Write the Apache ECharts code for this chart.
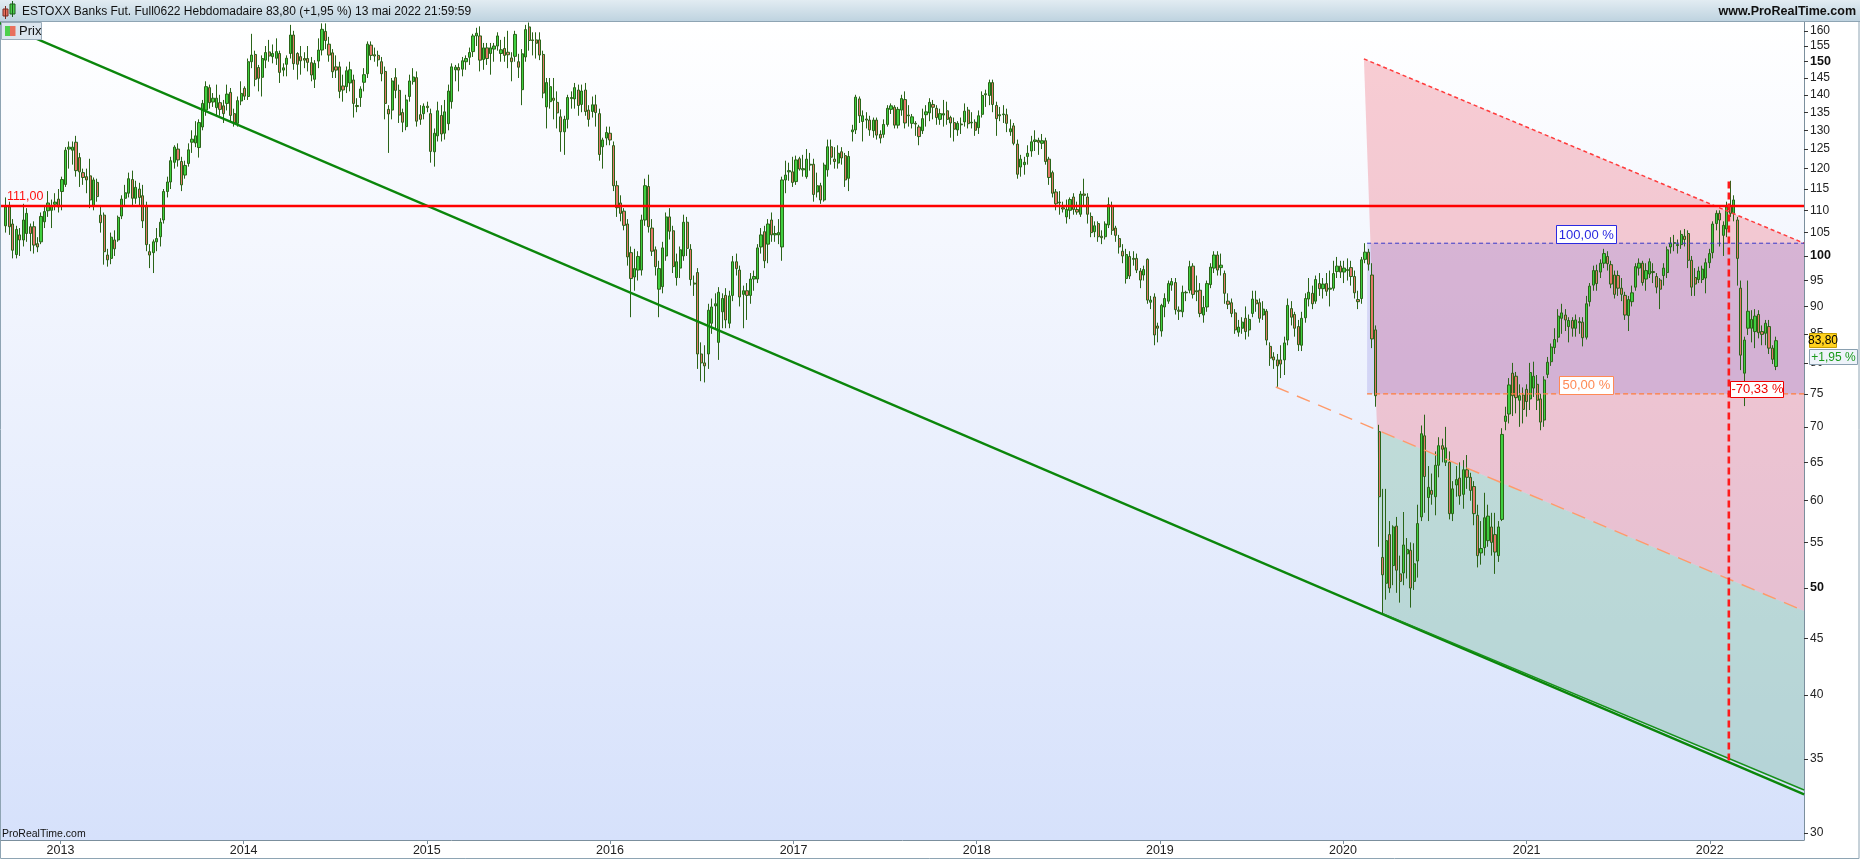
<!DOCTYPE html>
<html>
<head>
<meta charset="utf-8">
<title>ESTOXX Banks Fut. Full0622 Hebdomadaire</title>
<script src="https://cdn.jsdelivr.net/npm/echarts@6.0.0/dist/echarts.min.js"></script>
<style>
html,body{margin:0;padding:0;background:#fff;overflow:hidden}
#chart{width:1860px;height:860px}
</style>
</head>
<body>
<div id="chart"></div>
<script>
// Weekly candles, one row per week starting at firstWeek: [open, close, low, high]
const firstWeek = '2012-09-14';
const candles2012 = [
[106.5,110.8,105,113],[110.8,106.3,104.5,112],[106.9,101.2,99.5,108],[100.3,105.7,99.5,106.5],
[104.5,103.4,100,106],[103.4,107.8,102,111.5],[104.8,109.3,103,110.5],[106.3,104.8,101,107],
[106.3,102.3,100.5,107.5],[102.6,101.9,100.8,104],[103,108.6,102.5,109.5],[107.4,109.7,106,111],
[109.9,111.7,108.5,114.5],[110,111.1,106,112.5],[111.4,111.9,110,114],[112.6,110.8,109.5,115]];
const candles2013 = [
[114.4,117.3,110,118],[116.1,124.7,115.5,125.5],[125,125.5,120,127],[124.7,125.5,121,127],
[126.8,119.5,118,128.5],[122.8,119.2,115.5,124],[119,117.8,116,120],[118,117.2,114,120],
[118.2,112.4,110.5,122.5],[111.1,117.2,110,117.8],[116.6,113.2,112,117.5],[108.9,107.2,105,111],
[108.9,100.9,98.2,109.5],[100.2,99.2,97.8,101.5],[99.5,104,98.3,105],[103.4,101.5,100,105.5],
[103.4,108.4,103,108.8],[108.7,112.6,108,113.5],[112.8,114.1,111,116],[114,117.5,113,119],
[117.3,112.8,111,119.5],[112.8,115.4,111.5,117],[115,113,111,116.5],[113.4,107.6,106,116],
[111,102.4,101,112],[100.9,100.2,97.5,102.5],[100.7,103,96.5,103.5],[103,103.7,101,106],
[104.1,107.3,102,108.2],[107.8,114.4,107,115],[114.4,116.7,113,118],[116.7,122,115,123],
[121.6,125.5,120,126],[125,122.2,120.5,126.5],[121.8,116,114.5,123],[118.4,120.8,117.5,122],
[121.3,124.8,120.5,126.5],[126.8,127.6,124,130],[126.6,128.5,125.5,132.5],[125.4,132.1,122.8,133],
[130.9,137.5,130,138.5],[135.6,142.4,134,144],[142.1,137.7,136,143],[137.9,139,136.5,140.5],
[136.3,139,134,143],[137.7,135.8,134,140],[136.8,134.6,132,138.5],[137.5,140.2,135.5,143],
[140.7,134.1,132.5,142],[134.6,132,131,136],[131.9,138.3,131,139.5],[138.2,140.4,137,144]];
const candles2014 = [
[141.9,139.6,138.5,142.5],[139.5,150,138.5,151],[150,152.1,148,159],[152.3,144.6,142.5,153.5],
[148.2,144.9,141,149],[145.2,151,139.5,152],[150.5,152.9,148,155],[153.1,151.8,150,157],
[151.6,152.6,149.5,155.5],[151.1,153.2,149,157.5],[152.6,146.7,143.5,153.5],[147.4,148.1,145.5,149.5],
[149.2,151.1,145.5,152],[152.6,158.6,151,162],[158.6,149.4,147.5,160],[152.6,149.2,144.5,153],
[151.6,150.3,146,155],[151,150.5,148,153],[151,149.8,147,155],[149.7,145.9,144,151.5],
[144.6,149.5,142,150.5],[150.2,153.7,148,157.5],[153.7,160.5,152,162.5],[159.8,156.8,154,162.5],
[155.6,152.1,150,158],[152.8,146.9,145,154],[148.4,147.4,145,152],[148.4,141,139,150],
[142.6,141.4,138,146],[142.4,147.2,140.5,148.5],[143.5,147.5,141,150],[144.4,137.5,133.5,146],
[136.9,136.6,135,139],[139.2,141.7,136.5,142.5],[143.7,146,141,148],[146.3,155.6,145,156.5],
[155.3,152,150.5,156.5],[152.2,151.8,150,154.5],[152,150.6,148.5,153.5],[150,146.3,144,151.5],
[147,137.5,133,148.5],[135.8,134.5,124,137],[135.6,144.1,133,145],[145.1,141.3,139,148],
[141.3,134.2,132,143],[134.9,132.2,129.5,136],[131,138.5,130,140],[139.5,144.1,138,146],
[143.9,145.3,143,148],[145.1,132.5,131,147],[134.3,133,131.5,137],[134.6,136.7,133,137.5]];
const candles2015 = [
[136.7,136.3,135,138],[134.6,124.4,121.5,136],[124.3,129.2,120.5,130.5],[128.5,135.4,127,138],
[134.1,129,127,137],[129.2,135.1,127.5,138.5],[131.8,141.1,130,143],[138,148.4,136,149.5],
[147.5,148.3,144,149],[148.2,147.4,141,149.5],[147.7,150.3,145.5,151.5],[150,151,147.5,152],
[151.4,152.9,149,154.5],[153.2,158.3,151.5,159],[158.3,159.2,155,161],[158.3,150.5,147,161.5],
[150.7,154.4,147.5,156],[154.4,151,149,156],[152.6,154.4,146,156],[154,155,150,156],
[155,158.3,153.5,159.5],[152.6,153.8,150,157],[154.2,152,150,158],[153,152.2,148,160],
[151.2,150,144,153],[151.7,158.8,150,160],[150,148.3,145,152.5],[141.5,152.5,137,154],
[151.5,160.4,150,162],[161.3,156.8,153.5,162.8],[157,156.8,152,159.5],[157,155.9,151,159.5],
[157,152.1,150.5,159.5],[152.3,140.5,139,153.5],[136.5,143.6,130.5,145],[138,142.4,136,145],
[139,138.4,133,145],[137.8,134.8,130.5,141],[133.7,129.6,124.3,135.8],[129.6,133,123.5,134],
[133,139.2,130.5,140],[138.9,139.2,136,141],[138.8,142.1,136,143.5],[141.4,136.9,134,143],
[137.2,141.1,135,143],[141.4,135.2,134,143.5],[135.6,133,131,137],[135.2,137.1,133.5,139.5],
[137.1,134.9,131,140],[134.6,123.6,122,136],[125.6,127.4,120,128],[127.9,129.4,126,131]];
const candles2016 = [
[129.2,127.4,126,131],[125.9,115.8,114.5,127],[115.8,110.6,108.5,117],[111.7,109.3,107.5,113.5],
[109.8,106.6,105.5,110.5],[106.9,99.8,98,108],[100.7,95.4,88,102],[95.7,97.4,93,101.5],
[97.1,99.9,95,101],[97.1,107.8,96,109],[107.8,115.8,106.5,117.5],[115.6,106.3,105,118.5],
[106,101,100,108],[101.3,97.8,96,102],[93.3,97.4,88,99],[93.8,101.7,92.5,103],
[100,108.5,99,109.5],[108.5,105.3,103.5,110.5],[105.4,97.8,96.5,106.5],[95.6,98.8,94,100.5],
[97.5,101.3,95.5,102],[100,107.3,99,109],[107.3,101.6,100,108.5],[101.4,95.2,94,102.5],
[94.5,94.3,92,96],[96.6,81.5,79,97.5],[81.5,80,77,83.5],[80,79.5,76.8,83],
[81.5,89.3,79,90.5],[86.9,89.9,85,91.5],[90.1,90.5,86,92.5],[83.5,92.7,80.5,93.7],
[89,91.5,86,92.5],[92.1,87.5,86,93.5],[86.9,92,86,93],[92.1,98.8,91,100],
[98.8,97.4,96,100.5],[97.1,91.8,90,98],[92.3,93,86,94],[93,92.1,87.5,94.5],
[92.1,95.3,90.5,96.5],[95.3,95.8,93,97],[95.3,101.7,94.5,102.5],[101.9,104.5,100.5,106],
[105.2,99,97.5,106.5],[102.5,106.9,98.5,108],[107.8,104.5,103,109.5],[104.5,104.8,103,106.5],
[104.5,105,102.5,108],[101.9,117.2,99,118],[117.2,118.4,114,122],[119.2,119.5,117,121.5],
[119.2,116.6,115.5,123]];
const candles2017 = [
[116.8,122.2,116,123.3],[122.5,119.9,119.5,123],[119.7,120,118,123.5],[118,122.4,117.5,125],
[121.1,120.9,119.5,124],[121.1,113.7,112,122.5],[114.3,115.8,113,119],[115.8,112.4,111.5,116.5],
[112.4,120.9,112,121.5],[119.7,125.6,118,127.5],[125.6,122.9,121,127.5],[122.4,121.8,120,125.5],
[121.4,123.9,120,126],[124.3,122.7,121,125.5],[123.3,117.2,115.5,124],[117.6,123.1,114.5,124.5],
[129.6,130.1,127,131.5],[130.1,139.3,129,140],[138.8,134,132,139.5],[132.4,134,127,135.5],
[133.1,132.8,130.5,135],[132.8,130.1,128.5,134],[129.9,132.8,128,133.5],[132.8,128.7,127.5,133.5],
[128.9,127.9,126.5,130],[128.9,131.6,128,133],[131.6,136.1,131,137],[135.8,136.8,134.5,137.5],
[136.4,131.4,130.5,137],[131.4,135.8,130.5,136.5],[135.6,138.9,134,140],[138.6,132,130.5,141],
[134.2,134,131,137],[131.9,133.7,130.5,134.5],[131.9,131.7,128.5,132.5],[130.9,128.3,126,131.5],
[129.9,133.2,129,136],[134.3,135.1,131,137],[134.8,137.8,132.5,139],[137.2,136.4,133,138.5],
[136.1,133.5,131.5,137],[133,134.6,131.5,136],[134.2,134.6,131,138.5],[135.4,133,131.5,138],
[133.5,132,128,134],[132.1,130.3,127,133.5],[130.1,131.9,128.5,132.5],[131.7,131.5,129,133.5],
[132.3,135.3,131,137.5],[135.6,131.8,130.5,136.5],[132,132.2,130.5,135],[132.2,130,128.5,133]];
const candles2018 = [
[130.7,134,129,135.5],[134.4,139.8,133.5,141],[140,140.3,136.5,141.5],[139.8,143.6,137,144.5],
[143.6,137.2,135,144.5],[136.9,133.2,128.5,138],[134,134.3,132.5,136.5],[134.3,134.5,132,137],
[134.3,131.9,129.5,136],[129.6,130.4,128.5,133],[131.2,126.5,126,132],[126.3,118.6,117.5,127.5],
[120.4,122.4,118,123.5],[121,121.6,118.5,123],[123.1,123.9,121,126],[124.5,126.9,123,128.5],
[127,127.4,124.5,130],[127.3,126.8,123.5,128],[126.5,127.2,125,129],[127.2,121.8,121,128],
[122.4,117.8,116,123],[119,114,113,119.5],[114.3,111.5,110,115],[111.9,111.7,109,114.5],
[110.6,110.3,109.5,112],[108.5,110.2,107,112.5],[110,112.5,108,113],[113.1,110.2,109,114],
[110.2,109.6,109,112],[109.1,113.8,108.5,114.5],[113.8,113.5,111,117.5],[113.1,109.1,107,114],
[108.6,105,104,109.5],[105.2,106.5,104,107.5],[107,104.1,103,107.5],[104.2,103.9,102.5,105.5],
[104.1,106.9,103.5,107.5],[106.7,111.3,106,113],[111,105.5,104.5,112],[106,104.4,103,106.5],
[103.7,101.9,100.5,104.5],[101,100,98.5,102.5],[95.4,100.3,94.4,101.5],[99.9,95.9,95.3,101],
[99.5,99.3,98,101],[99.5,97.1,96.5,100.5],[96.9,95.1,93.5,97.5],[96.1,97.2,95,98],
[99.3,91.2,90.5,99.5],[90.8,91.2,89.5,92],[91.8,84.8,83,92.5],[86.4,86,83.5,87]];
const candles2019 = [
[85.5,90.2,84.5,90.5],[89.9,91.5,88,92.5],[91,94.4,90.5,95],[94.1,94.8,93,95.5],
[94.6,89.4,88.5,95.5],[89.3,89.1,87.5,90],[89,92.7,88,94],[92.6,92.7,91,93],
[93.1,97.8,92.5,99],[97.9,92.3,91.5,98.5],[93,92.8,91,96],[93.1,88.7,88,94.5],
[88.4,89.8,87,92],[89.9,94.4,89,95],[94.2,97.7,93.5,98.5],[97.5,100.2,96.5,101],
[100.2,97.1,96,101],[97.6,98.1,96,100.5],[96.4,92.5,90.5,97],[91,90.4,89.5,92.5],
[90.7,88.7,88,91.5],[88.8,85.7,85,89.5],[85.3,86.2,84.5,87.5],[86,87.1,85,88],
[87.8,85.4,84,90],[85.7,87.6,84.5,88.5],[88.7,91.4,88,93],[91.2,90.5,89,93],
[90.7,87.8,87,91.5],[88.4,89.5,87.5,91],[89.1,83.9,83,89.5],[82.8,80.8,79.5,83.5],
[81,80.5,79,81.8],[80.5,79.5,76.1,81.5],[80.5,79.8,77.5,83],[80.5,83.4,78,84.5],
[83.9,90.2,83,91.5],[89.6,88,86.5,91],[88.5,86,84.5,89],[86.3,83.1,82,87.5],
[83,87.8,82,89],[87.9,91.5,87,92.5],[91.4,92.7,90,95.5],[92.5,90.5,89.5,94],
[91,95.2,90.5,96],[94.4,93.4,92,96.5],[93.4,94.3,91.5,95.5],[94.4,92.9,92,96.5],
[93.3,93.5,90,97],[93.5,96.4,93,99],[96.8,97.9,95.5,99.8],[97.9,96.7,95.5,99]];
const candles2020 = [
[96.7,97.5,94.5,99],[97.2,97,95,99.5],[97.6,95.8,94,99],[95.8,92.6,91.5,97],
[91.3,90.9,89.5,93],[91.5,99.2,90.5,99.8],[99.3,100.8,98.5,102.7],[100.8,98.3,97,101.5],
[96.1,84.1,82.5,98.5],[85.7,74.7,73,86.5],[69.3,60.5,54.5,70.3],[53.3,51.4,47.4,61.5],
[50.5,55.2,48.8,61.5],[55.9,50,49.5,57.5],[52.4,56.8,50.3,57],[56.9,51.9,49.5,58],
[51.5,50.7,48.5,53.5],[51.6,54.7,50.3,58.6],[53.7,54.2,51,55.5],[54.1,50,48,55],
[50.7,52.6,49.8,54.9],[52.9,57.2,51.1,59.5],[58,69,57.5,70.2],[68.7,63.1,58.5,71.8],
[60.4,61.7,57.5,64.5],[61.3,60.8,59.5,63.5],[60.5,64.6,58.2,66.5],[64.6,67.3,63,68.5],
[67.3,66.8,65,68.3],[65,67,64.5,70],[65,58.4,57.7,66.5],[58.4,61.5,57.5,62.5],
[62,62.7,60.5,64.5],[62.9,60.6,59.5,65],[60.8,64,59,65.3],[64,63,61.5,66],
[63,61.3,60,63.6],[61.8,58.4,57,62.5],[58.2,53.5,52.2,59.5],[53.8,54.3,52.5,57.5],
[54.4,57.9,53.5,61],[55.2,58.1,54.5,59.5],[56.8,55,53.5,58.5],[55.9,53.9,51.5,58.5],
[53.5,56.8,52.8,57.5],[57.7,68.9,57.5,69.8],[70.8,71.6,69.5,73],[71.9,76.4,70.5,77.5],
[78.3,74.7,71.6,80],[77.8,74.4,72,78.5],[74,74.7,70,76.5],[74.8,72.6,70.5,76]];
const candles2021 = [
[75.7,73.8,71.5,76.5],[74.2,78.4,72.5,80],[75.9,77.8,74.5,80.2],[76.5,74,72.5,78],
[74.2,70.7,69.5,75],[71,77.2,70,77.8],[78.1,80.1,77.5,81],[80.2,82.7,79.5,83.3],
[82.6,84,81.5,86],[84.4,88.2,83.5,89.5],[87.8,88.8,85,90.5],[88.4,87.5,85.5,89.5],
[86.3,87.4,83.5,88],[87.4,86,84.5,88],[86,87.5,84.5,88.5],[87.2,87,85,88],
[87.1,84.3,82.8,88],[84.4,90.5,84,92],[90.9,93.9,90,94.5],[94.1,97,93,98],
[97,94.4,93,98.2],[96.7,98.5,95.5,99.3],[98.5,100.5,97.5,101.5],[99.9,98.4,97,101],
[98.2,94.3,93.5,99],[96.1,92.3,91.5,97],[96,93.5,92,97],[93.5,92.3,91,95.5],
[92.1,88.4,87.5,92.8],[88.3,91.3,85.5,92],[90.9,92.6,90,94],[93.7,97.8,93,98.5],
[97.5,98.5,96,99.5],[98.5,94.6,94,99],[95.3,97,93,98.5],[96.3,98.8,95.5,99.5],
[96.8,96.6,94.5,98.5],[95.8,93.7,92.5,96.5],[95.1,93.3,89.5,95.5],[96,97.5,94,98.5],
[96.6,101.3,95.5,102],[101.9,102.7,100.5,104],[102.7,102.8,101,104.5],[102.2,102.4,100.5,103.5],
[102.4,104.6,101.5,105.5],[104.2,103.5,102,105.8],[104.8,99.1,97.5,105.5],[99.1,93.7,92,100],
[95.6,94.3,92,97.5],[95.2,96.9,94.5,97.8],[95.2,97.3,94.5,98],[95.5,98.6,92.5,99.5],
[98.6,100.5,97.5,101.5]];
const candles2022 = [
[100.7,106.9,99.5,107.5],[107,109.3,105.5,110],[109.3,107.8,102,110],[104.4,106.6,100,107.5],
[105.8,110.8,104,112],[111,109.3,108.5,117],[109.3,112.4,107.5,113.5],[107.8,99.5,94,108.5],
[93.5,81.3,78.8,95],[78.3,83.9,73.1,84.5],[86,89.1,84.8,95],[86,87.6,83.5,89.3],
[85.4,88.2,82.5,89.5],[88.5,85.2,84.2,89.3],[85.4,84.9,83,86.5],[85.1,86.9,83,87.5],
[86.3,82.5,81.5,87.5],[82.5,80.6,79.8,83],[79.4,83.8,78.8,84.5]];

const yearLabels = ['2013','2014','2015','2016','2017','2018','2019','2020','2021','2022'];
const priceTicks = [30,35,40,45,50,55,60,65,70,75,80,85,90,95,100,105,110,115,120,125,130,135,140,145,150,155,160];
const boldTicks = [50,100,150];
const dateRange = ['2012-09-04T10:00:00Z','2022-07-07T19:00:00Z'];
const priceRange = [29.55,162.97];

const titleText = 'ESTOXX Banks Fut. Full0622 Hebdomadaire 83,80 (+1,95 %) 13 mai 2022 21:59:59';
const siteText = 'www.ProRealTime.com';
const lastClose = 83.80;
const lastChangeText = '+1,95 %';
const resistanceLevel = 111.00;

// drawing objects, anchors as [date, price]
const mainTrend  = [['2012-09-02',162.6],['2022-07-08',32.5]];
const lowTrend   = [['2020-03-20',47.4],['2022-07-08',32.8]];
const channelTop = [['2020-02-11T16:00:00Z',150.9],['2022-07-08',102.7]];
const channelMid = [['2019-08-20',76.07],['2022-07-08',47.66]];
const level100   = [['2020-02-18',102.7],['2022-07-08',102.7]];
const level50    = [['2020-02-18',75.0],['2022-07-08',75.0]];
const peakDrop   = [['2022-02-08',116.8],['2022-02-08',34.75]];
const pinkZone   = [channelTop[0], channelTop[1], channelMid[1], ['2020-03-09',69.5]];
const tealZone   = [['2020-03-09',69.5], channelMid[1], lowTrend[1], lowTrend[0]];
const boxZone    = [level100[0], level100[1], level50[1], level50[0]];
const tags = [
  {text:'111,00',   date:'2012-09-04T10:00:00Z', price:111.0},
  {text:'100,00 %', date:'2021-04-29', price:102.7},
  {text:'50,00 %',  date:'2021-04-29', price:75.0},
  {text:'-70,33 %', date:'2022-04-05', price:75.0},
  {text:'83,80',    date:'2022-07-07T19:00:00Z', price:lastClose},
  {text:lastChangeText, date:'2022-07-07T19:00:00Z', price:lastClose}
];

// ---------- styles ----------
const FONT = '"Liberation Sans", Arial, sans-serif';
const tagStyle = [
  {kind:'plain', dx:6, dy:-9, color:'#ff1010', size:12.5},
  {kind:'box', dx:-30, dy:-18, w:60, h:18, color:'#2a2ae0', border:'#2a2ae0', bg:'#ffffff', size:13},
  {kind:'box', dx:-27, dy:-18, w:54, h:18, color:'#ff8a55', border:'#ff8a55', bg:'#ffffff', size:13},
  {kind:'box', dx:-26.5, dy:-13, w:53, h:16, color:'#ee0000', border:'#ee0000', bg:'#ffffff', size:13},
  {kind:'box', dx:5, dy:-7.5, w:27, h:14, color:'#000000', border:'#c8a000', bg:'#ffd21f', size:12},
  {kind:'box', dx:5, dy:8.5, w:48, h:15, color:'#1a9a1a', border:'#8aa0b0', bg:'#eef3fa', size:12}
];

const DAY = 864e5, WEEK = 7*DAY;
const t = s => Date.parse(s.length === 10 ? s + 'T00:00:00Z' : s);
const L = Math.log;
const allCandles = [].concat(candles2012, candles2013, candles2014, candles2015, candles2016,
  candles2017, candles2018, candles2019, candles2020, candles2021, candles2022);
const t0 = t(firstWeek);
const candleData = allCandles.map((c, i) => [t0 + i*WEEK, L(c[0]), L(c[1]), L(c[2]), L(c[3])]);
const pts = arr => arr.map(p => [t(p[0]), L(p[1])]);
const yearTicks = yearLabels.map(y => Date.UTC(+y, 0, 1));

function lineSeries(anchors, color, width, type, z) {
  return {type:'line', data: pts(anchors), showSymbol:false, symbol:'none', silent:true,
    lineStyle:{color, width, type}, z: z || 8, animation:false, clip:true};
}

const zones = [
  {points: pinkZone, fill:'rgba(238,120,135,0.37)'},
  {points: tealZone, fill:'rgba(130,190,165,0.42)'},
  {points: boxZone,  fill:'rgba(120,110,220,0.22)'}
];

const chart = echarts.init(document.getElementById('chart'), null, {renderer:'canvas'});
const option = {
  animation: false,
  backgroundColor: '#ffffff',
  grid: {left:1, right:56, top:22, bottom:20, show:true, borderWidth:0,
    backgroundColor: new echarts.graphic.LinearGradient(0,0,0,1,[{offset:0,color:'#ffffff'},{offset:1,color:'#d6e1fb'}])},
  xAxis: {
    type:'value', min:t(dateRange[0]), max:t(dateRange[1]), scale:true,
    axisLine:{show:true, onZero:false, lineStyle:{color:'#7b8f9d', width:1}},
    axisTick:{show:true, length:4, customValues: yearTicks, lineStyle:{color:'#7b8f9d'}},
    axisLabel:{customValues: yearTicks, formatter: v => { const k = yearTicks.indexOf(v); return k >= 0 ? yearLabels[k] : String(new Date(v).getUTCFullYear()); },
      color:'#222', fontSize:12.5, fontFamily:FONT, margin:4, hideOverlap:false, showMinLabel:true, showMaxLabel:true},
    splitLine:{show:false}
  },
  yAxis: {
    type:'value', position:'right', min:L(priceRange[0]), max:L(priceRange[1]), scale:true,
    axisLine:{show:true, onZero:false, lineStyle:{color:'#7b8f9d', width:1}},
    axisTick:{show:true, length:4, customValues: priceTicks.map(L), lineStyle:{color:'#333'}},
    axisLabel:{customValues: priceTicks.map(L), margin:6, color:'#222', fontSize:12, fontFamily:FONT,
      formatter: v => { const p = Math.round(Math.exp(v)); return boldTicks.indexOf(p) >= 0 ? '{b|' + p + '}' : String(p); },
      rich:{b:{fontWeight:'bold', fontSize:12.5, color:'#111', fontFamily:FONT}}},
    splitLine:{show:false}
  },
  graphic: [
    {type:'rect', z:100, shape:{x:0, y:0, width:1860, height:22},
      style:{fill:new echarts.graphic.LinearGradient(0,0,0,1,[{offset:0,color:'#e2ecf2'},{offset:1,color:'#bdd2df'}])}},
    {type:'line', z:100, shape:{x1:0, y1:21.5, x2:1860, y2:21.5}, style:{stroke:'#8ea4b3', lineWidth:1}},
    {type:'rect', z:101, shape:{x:3, y:9, width:5, height:7}, style:{fill:'#e8705e', stroke:'#7a2a20', lineWidth:1}},
    {type:'line', z:101, shape:{x1:5.5, y1:6, x2:5.5, y2:19}, style:{stroke:'#7a2a20', lineWidth:1}},
    {type:'rect', z:101, shape:{x:10, y:4, width:5, height:10}, style:{fill:'#4cd04c', stroke:'#1d5e1d', lineWidth:1}},
    {type:'line', z:101, shape:{x1:12.5, y1:1, x2:12.5, y2:17}, style:{stroke:'#1d5e1d', lineWidth:1}},
    {type:'text', z:101, style:{x:22, y:12, text:titleText, font:'12px ' + FONT, fill:'#101010', verticalAlign:'middle'}},
    {type:'text', z:101, style:{x:1856, y:12, text:siteText, font:'bold 12.5px ' + FONT, fill:'#101010', align:'right', verticalAlign:'middle'}},
    {type:'rect', z:101, shape:{x:1.5, y:22.5, width:40, height:17}, style:{fill:'#dbe5ee', stroke:'#9aacba', lineWidth:1}},
    {type:'rect', z:102, shape:{x:5, y:26, width:5, height:10}, style:{fill:'#4cd04c'}},
    {type:'rect', z:102, shape:{x:10, y:26, width:5.5, height:10}, style:{fill:'#e8705e'}},
    {type:'text', z:102, style:{x:19, y:31.5, text:'Prix', font:'13px ' + FONT, fill:'#111', verticalAlign:'middle'}},
    {type:'text', z:101, style:{x:2, y:834, text:'ProRealTime.com', font:'10.5px ' + FONT, fill:'#111', verticalAlign:'middle'}},
    {type:'rect', z:0, shape:{x:0.5, y:0.5, width:1858.5, height:858}, style:{fill:'none', stroke:'#8ea4b3', lineWidth:1}}
  ],
  series: [
    {type:'custom', silent:true, clip:true, z:1, animation:false,
      data: zones.map(zn => [t(zn.points[0][0]), L(zn.points[0][1])]),
      renderItem: (params, api) => {
        const zn = zones[params.dataIndex];
        return {type:'polygon', shape:{points: pts(zn.points).map(p => api.coord(p))}, style:{fill: zn.fill}};
      }},
    {type:'candlestick', data: candleData, encode:{x:0, y:[1,2,3,4]}, barWidth:2.7, z:5, silent:true,
      itemStyle:{color:'#3fcf3f', color0:'#e2786a', borderColor:'#2a6418', borderColor0:'#2a6418', borderColorDoji:'#2a6418', borderWidth:1}},
    lineSeries(mainTrend, '#0b860b', 2.3, 'solid', 7),
    lineSeries(lowTrend, '#17901a', 1.4, 'solid', 7),
    lineSeries(channelTop, '#ff3b3b', 1.5, [4,3], 7),
    lineSeries(channelMid, '#ff9a6a', 1.4, [14,9], 7),
    lineSeries(level100, '#3838c8', 1, [4,3], 7),
    lineSeries(level50, '#ff7c3a', 1.2, [5,3], 7),
    lineSeries([[dateRange[0], resistanceLevel],[dateRange[1], resistanceLevel]], '#ff0000', 2.5, 'solid', 9),
    lineSeries(peakDrop, '#ff1a1a', 2.6, [7,4], 9),
    {type:'custom', silent:true, clip:false, z:20, animation:false,
      data: tags.map(g => [t(g.date), L(g.price)]),
      renderItem: (params, api) => {
        const g = tags[params.dataIndex], s = tagStyle[params.dataIndex];
        const c = api.coord([api.value(0), api.value(1)]);
        if (s.kind === 'plain') {
          return {type:'text', style:{x:c[0]+s.dx, y:c[1]+s.dy, text:g.text, fill:s.color, font:s.size + 'px ' + FONT, verticalAlign:'middle'}};
        }
        return {type:'group', children:[
          {type:'rect', shape:{x:Math.round(c[0]+s.dx)+0.5, y:Math.round(c[1]+s.dy)+0.5, width:s.w, height:s.h}, style:{fill:s.bg, stroke:s.border, lineWidth:1}},
          {type:'text', style:{x:c[0]+s.dx+s.w/2+0.5, y:c[1]+s.dy+s.h/2+1, text:g.text, fill:s.color, font:s.size + 'px ' + FONT, align:'center', verticalAlign:'middle'}}
        ]};
      }}
  ]
};
chart.setOption(option);
</script>
</body>
</html>
